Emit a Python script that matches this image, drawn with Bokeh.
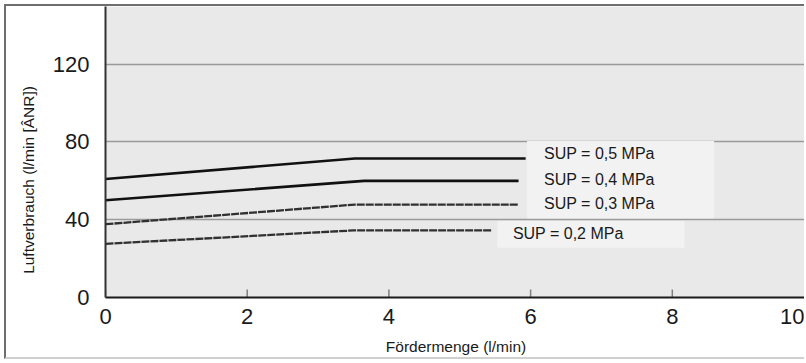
from bokeh.plotting import figure
from bokeh.models import FixedTicker, Label, BoxAnnotation, Range1d
from bokeh.embed import file_html
from bokeh.resources import INLINE

# ---- data ----
x_ticks = [0, 2, 4, 6, 8, 10]
y_ticks = [0, 40, 80, 120]

x_05 = [0, 3.52, 5.93]
y_05 = [61.0, 71.5, 71.5]
x_04 = [0, 3.65, 5.83]
y_04 = [50.0, 60.0, 60.0]
x_03 = [0, 3.52, 5.83]
y_03 = [37.7, 47.8, 47.8]
x_02 = [0, 3.50, 5.45]
y_02 = [27.6, 34.5, 34.5]

series_labels = ["SUP = 0,5 MPa", "SUP = 0,4 MPa", "SUP = 0,3 MPa", "SUP = 0,2 MPa"]
label_x = [6.19, 6.19, 6.19, 5.75]
label_y = [74.1, 60.9, 48.4, 32.9]

x_title = "Fördermenge (l/min)"
y_title = "Luftverbrauch (l/min [ÂNR])"

FONT = "Liberation Sans"

# ---- layout ----
X_END = 9.894          # visible part of the 0..10 axis (the original is cropped on the right)
Y_END = 149.7
PX_PER_X = 701 / X_END
PX_PER_Y = 291 / Y_END
TICK_LEN_PX = 8
LAST_LABEL_INSET_PX = 2    # the "10" label sits at the cropped edge, as in the original
Y_TITLE_PAD = "\u00a0" * 13  # moves the y title down along the axis as in the original

p = figure(width=800, height=355,
           x_range=Range1d(0, X_END), y_range=Range1d(0, Y_END),
           output_backend="svg", toolbar_location=None,
           min_border_left=99, min_border_right=0,
           min_border_top=0, min_border_bottom=64)

p.background_fill_color = "#e8e9e8"
p.border_fill_color = "white"
p.outline_line_color = None
p.styles = {"margin-left": "4px", "margin-top": "4px",
            "border-left": "2px solid #6e6e6e",
            "border-top": "2px solid #6e6e6e",
            "border-bottom": "2px solid #d0d0d0"}

p.xgrid.visible = False
p.ygrid.ticker = FixedTicker(ticks=y_ticks)
p.ygrid.grid_line_color = "#9a9a9a"
p.ygrid.grid_line_width = 1.5

# x tick label positions: the last one ("10") is shown at the cropped edge
shown_x = [t for t in x_ticks if t <= X_END]
last = x_ticks[-1]
last_pos = X_END - LAST_LABEL_INSET_PX / PX_PER_X
tick_positions = shown_x + [last_pos]

xa = p.xaxis[0]
xa.ticker = FixedTicker(ticks=tick_positions)
xa.major_label_overrides = {last_pos: str(last)}
xa.axis_line_color = "#1a1a1a"
xa.axis_line_width = 2
xa.major_tick_in = 0
xa.major_tick_out = 0
xa.minor_tick_line_color = None
xa.major_label_text_font = FONT
xa.major_label_text_font_size = "22px"
xa.major_label_text_color = "#1a1a1a"
xa.major_label_standoff = 11
xa.axis_label = x_title
xa.axis_label_text_font = FONT
xa.axis_label_text_font_size = "15.5px"
xa.axis_label_text_font_style = "normal"
xa.axis_label_text_color = "#1a1a1a"
xa.axis_label_standoff = 11

ya = p.yaxis[0]
ya.ticker = FixedTicker(ticks=y_ticks)
ya.axis_line_color = "#333333"
ya.axis_line_width = 2
ya.major_tick_line_color = None
ya.minor_tick_line_color = None
ya.major_label_text_font = FONT
ya.major_label_text_font_size = "22px"
ya.major_label_text_color = "#1a1a1a"
ya.major_label_standoff = 10
ya.axis_label = y_title + Y_TITLE_PAD
ya.axis_label_text_font = FONT
ya.axis_label_text_font_size = "15.5px"
ya.axis_label_text_font_style = "normal"
ya.axis_label_text_color = "#1a1a1a"
ya.axis_label_standoff = 13

# inward x tick marks at the real tick values
p.segment(x0=x_ticks, y0=[0] * len(x_ticks), x1=x_ticks,
          y1=[TICK_LEN_PX / PX_PER_Y] * len(x_ticks),
          line_color="#808080", line_width=1.5)

# curves
p.line(x_05, y_05, line_color="#111111", line_width=2.6)
p.line(x_04, y_04, line_color="#111111", line_width=2.6)
p.line(x_03, y_03, line_color="#303030", line_width=2.3, line_dash="8 1")
p.line(x_02, y_02, line_color="#303030", line_width=2.3, line_dash="8 1")

# label backgrounds
p.add_layout(BoxAnnotation(left=label_x[0] - 0.24, right=label_x[0] + 2.40,
                           bottom=label_y[2] - 7.6, top=label_y[0] + 6.4,
                           fill_color="#f2f2f2", fill_alpha=1, line_color=None))
p.add_layout(BoxAnnotation(left=label_x[3] - 0.22, right=label_x[3] + 2.42,
                           bottom=label_y[3] - 7.3, top=label_y[3] + 6.4,
                           fill_color="#f2f2f2", fill_alpha=1, line_color=None))

for t, lx, ly in zip(series_labels, label_x, label_y):
    p.add_layout(Label(x=lx, y=ly, text=t, text_font=FONT, text_font_size="16px",
                       text_color="#1a1a1a", text_align="left", text_baseline="middle"))

open("out.html", "w").write(file_html(p, INLINE))
